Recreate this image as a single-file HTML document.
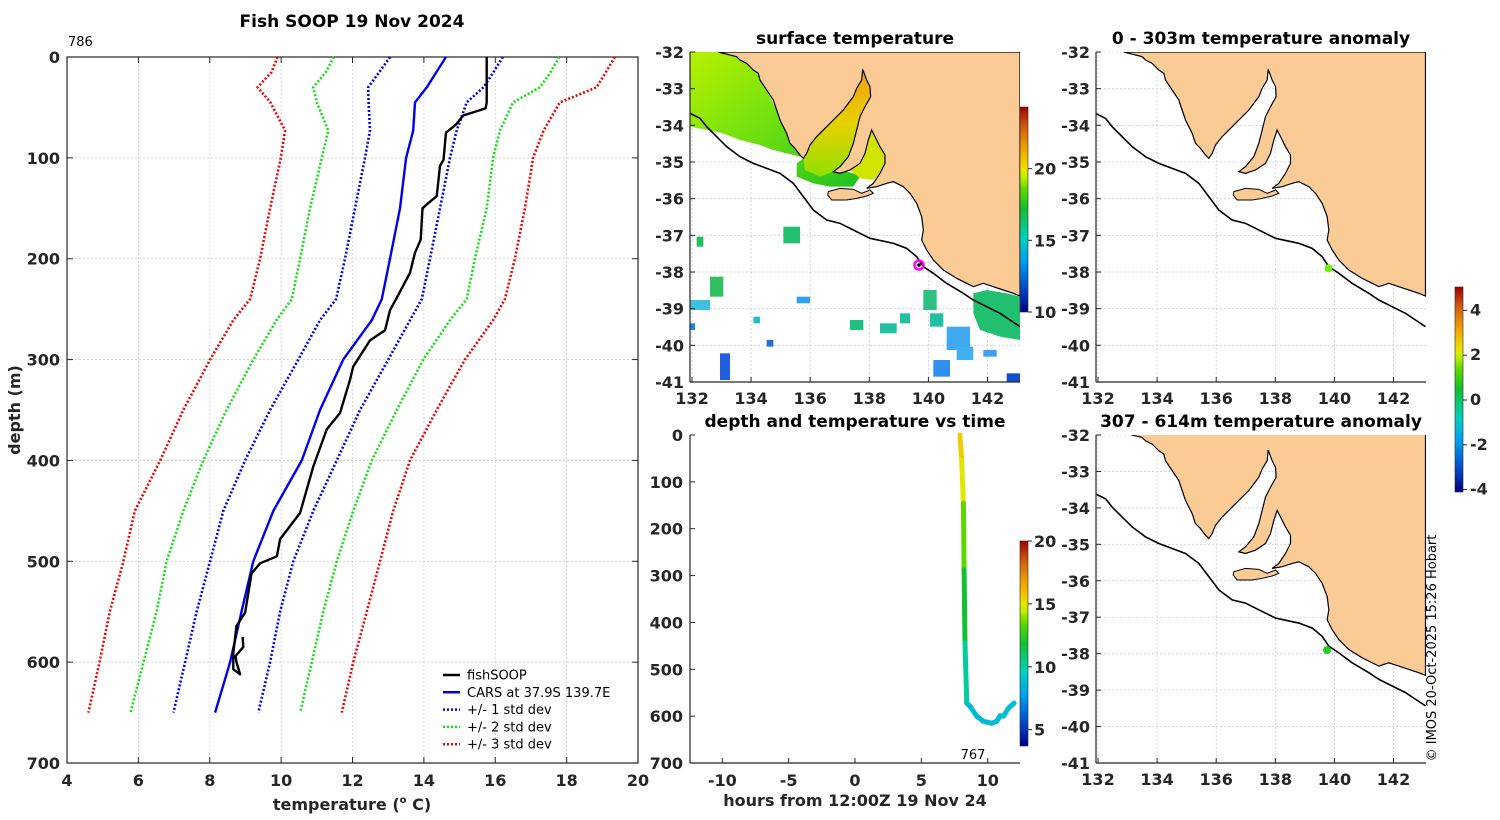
<!DOCTYPE html>
<html><head><meta charset="utf-8"><style>
html,body{margin:0;padding:0;background:#fff;}
svg{display:block;font-family:"DejaVu Sans","Liberation Sans",sans-serif;}
.t{font-weight:bold;fill:#262626;font-size:16px;}
.ttl{font-weight:bold;fill:#000;font-size:17px;}
.lg{font-size:13px;fill:#000;}
</style></head><body>
<svg id="fig" width="1500" height="820" viewBox="0 0 1500 820">
<defs>
<linearGradient id="cmapV" x1="0" y1="1" x2="0" y2="0">
<stop offset="0" stop-color="#000080"/><stop offset="0.1" stop-color="#0040c0"/><stop offset="0.25" stop-color="#00a0f0"/><stop offset="0.36" stop-color="#00d0c0"/><stop offset="0.5" stop-color="#10c030"/><stop offset="0.6" stop-color="#60d800"/><stop offset="0.66" stop-color="#c0f000"/><stop offset="0.7" stop-color="#f0e000"/><stop offset="0.8" stop-color="#f0a000"/><stop offset="0.9" stop-color="#d06010"/><stop offset="1" stop-color="#a00000"/>
</linearGradient>
<linearGradient id="nwg" x1="0" y1="0" x2="1" y2="1"><stop offset="0" stop-color="#b8f000"/><stop offset="0.5" stop-color="#70e010"/><stop offset="1" stop-color="#20c020"/></linearGradient>
<linearGradient id="sgg" x1="0" y1="0" x2="0" y2="1"><stop offset="0" stop-color="#f0a010"/><stop offset="0.5" stop-color="#e8d000"/><stop offset="1" stop-color="#90e000"/></linearGradient>
<clipPath id="clipM"><rect x="690" y="52" width="330" height="330"/></clipPath>
<clipPath id="clipR1"><rect x="1096" y="52" width="330" height="330"/></clipPath>
<clipPath id="clipR2"><rect x="1096" y="435" width="330" height="328"/></clipPath>
<g id="landshape">
<path fill="#fbcb96" stroke="#000" stroke-width="1.2" vector-effect="non-scaling-stroke" d="M235,66 L290,80 300,90 320,100 340,120 355,130 360,150 380,180 400,210 410,240 420,270 440,310 450,340 465,355 480,375 490,385 500,370 510,345 530,320 560,290 580,270 610,240 640,200 650,175 665,150 668,118 680,150 690,170 692,200 675,230 660,260 650,300 640,340 625,380 600,410 580,425 600,430 630,420 660,400 675,370 685,330 695,300 705,320 720,350 735,375 735,400 720,430 700,460 680,475 710,470 740,460 760,455 790,470 810,490 830,520 845,560 850,600 845,630 860,660 880,690 910,720 950,745 980,760 1000,770 1030,760 1060,770 1090,780 1120,790 1140,798 1140,66 Z"/>
<path fill="#fbcb96" stroke="#000" stroke-width="1" vector-effect="non-scaling-stroke" d="M565,485 L600,475 640,478 665,490 690,480 700,490 680,498 650,505 620,510 575,510 563,495 Z"/>
<path fill="none" stroke="#000" stroke-width="1.6" vector-effect="non-scaling-stroke" d="M150,250 L180,265 200,290 230,320 260,350 300,380 340,400 380,415 420,430 460,460 490,500 520,540 560,570 600,580 640,600 690,625 760,640 800,655 830,680 850,710 880,730 920,760 970,790 1000,810 1040,830 1080,850 1110,870 1140,890"/>
</g>
</defs>
<g id="layer"></g>
</svg>
<script>
// ---------- Left profile chart data ----------
const stdDepths = [0,15,30,45,73,100,150,200,240,261,300,350,400,450,500,550,600,650];
const carsMean  = [14.62,14.35,14.08,13.75,13.70,13.50,13.33,13.05,12.82,12.54,11.74,11.09,10.58,9.78,9.22,8.89,8.57,8.15];
const minus1    = [13.05,12.75,12.44,12.45,12.49,12.35,12.07,11.79,11.54,11.09,10.48,9.69,8.99,8.38,8.01,7.63,7.31,6.98];
const plus1     = [16.21,15.95,15.67,15.20,14.92,14.73,14.45,14.17,13.94,13.61,13.00,12.21,11.56,10.90,10.34,9.97,9.69,9.36];
const minus2    = [11.48,11.25,10.90,11.00,11.32,11.14,10.81,10.53,10.30,9.87,9.22,8.47,7.82,7.26,6.79,6.51,6.14,5.78];
const plus2     = [17.79,17.55,17.25,16.50,16.13,15.94,15.76,15.43,15.20,14.73,13.98,13.24,12.54,12.02,11.56,11.18,10.86,10.53];
const minus3    = [9.90,9.73,9.34,9.70,10.11,9.99,9.69,9.41,9.13,8.66,8.01,7.26,6.61,5.90,5.58,5.20,4.91,4.60];
const plus3     = [19.35,19.10,18.84,17.81,17.35,17.06,16.83,16.55,16.27,15.94,15.15,14.36,13.61,13.14,12.77,12.40,12.02,11.70];
const fishDepth = [0,45,51,58,67,75,102,108,138,145,150,181,194,214,240,251,271,281,307,320,353,369,406,452,465,478,495,502,512,551,564,591,607,612,600,594,585,575];
const fishTemp  = [15.76,15.76,15.73,15.1,14.9,14.62,14.55,14.45,14.36,14.12,13.96,13.91,13.75,13.61,13.22,13.05,12.91,12.49,12.02,11.93,11.65,11.28,10.90,10.53,10.25,9.97,9.88,9.41,9.17,8.99,8.75,8.66,8.66,8.85,8.75,8.72,8.94,8.92];
const tempTicks = [4,6,8,10,12,14,16,18,20];
const depthTicks = [0,100,200,300,400,500,600,700];
// ---------- time plot data ----------
const trHours = [7.91,8.04,8.17,8.22,8.29,8.42,8.67,9.17,9.67,10.3,10.68,10.93,11.18,11.56,11.99];
const trDepth = [0,53,146,288,444,572,579,600,611,615,611,599,600,583,572];
const trTemp  = [15.7,15.5,14.3,12.5,11.3,9.0,8.9,8.7,8.7,8.8,8.8,8.8,8.9,8.9,8.9];
const hourTicks = [-10,-5,0,5,10];
// ---------- maps ----------
const lonTicks = [132,134,136,138,140,142];
const latTicks = [-32,-33,-34,-35,-36,-37,-38,-39,-40,-41];
const sstTicks = [10,15,20];
const anomTicks = [-4,-2,0,2,4];
const cbTicks2 = [5,10,15,20];

const NS='http://www.w3.org/2000/svg';
const layer=document.getElementById('layer');
function mk(tag,attrs,parent){const e=document.createElementNS(NS,tag);for(const k in attrs)e.setAttribute(k,attrs[k]);(parent||layer).appendChild(e);return e;}
function txt(x,y,s,cls,anchor,parent){const t=mk('text',{x:x,y:y,class:cls,'text-anchor':anchor||'middle'},parent);t.textContent=s;return t;}
const cstops=[[0,[0,0,128]],[0.1,[0,64,192]],[0.25,[0,160,240]],[0.36,[0,208,192]],[0.5,[16,192,48]],[0.6,[96,216,0]],[0.66,[192,240,0]],[0.7,[240,224,0]],[0.8,[240,160,0]],[0.9,[208,96,16]],[1,[160,0,0]]];
function cmap(f){f=Math.max(0,Math.min(1,f));for(let i=1;i<cstops.length;i++){if(f<=cstops[i][0]){const a=cstops[i-1],b=cstops[i];const u=(f-a[0])/(b[0]-a[0]);const c=a[1].map((v,j)=>Math.round(v+(b[1][j]-v)*u));return 'rgb('+c.join(',')+')';}}return 'rgb(160,0,0)';}

// ===== LEFT CHART =====
const LX=T=>67+(T-4)*35.69, LY=d=>57+d*1.0086;
const gL=mk('g',{});


tempTicks.forEach(t=>{const l=mk('line',{x1:LX(t),x2:LX(t),y1:57,y2:763,stroke:'#c8cce0','stroke-width':0.8,'stroke-dasharray':'2 2'},gL);

mk('line',{x1:LX(t),x2:LX(t),y1:763,y2:757,stroke:'#262626'},gL);mk('line',{x1:LX(t),x2:LX(t),y1:57,y2:63,stroke:'#262626'},gL);
const tl=txt(LX(t),786,String(t),'t','middle',gL);});
depthTicks.forEach(d=>{const l=mk('line',{x1:67,x2:638,y1:LY(d),y2:LY(d),stroke:'#dcc8c0','stroke-width':0.8,'stroke-dasharray':'2 2'},gL);

mk('line',{x1:67,x2:73,y1:LY(d),y2:LY(d),stroke:'#262626'},gL);mk('line',{x1:632,x2:638,y1:LY(d),y2:LY(d),stroke:'#262626'},gL);
const tl=txt(60,LY(d)+6,String(d),'t','end',gL);});
const fr=mk('rect',{x:67,y:57,width:571,height:706,fill:'none',stroke:'#262626','stroke-width':1.2},gL);

function pline(ts,ds,color,dash,w,name){const p=ts.map((t,i)=>LX(t).toFixed(1)+','+LY(ds[i]).toFixed(1)).join(' ');
const e=mk('polyline',{points:p,fill:'none',stroke:color,'stroke-width':w,'stroke-linejoin':'round'},gL);if(dash)e.setAttribute('stroke-dasharray',dash);
}
pline(minus3,stdDepths,'#f00000','2 2',2.6,'minus-3-std-line');
pline(plus3,stdDepths,'#f00000','2 2',2.6,'plus-3-std-line');
pline(minus2,stdDepths,'#10e010','2 2',2.6,'minus-2-std-line');
pline(plus2,stdDepths,'#10e010','2 2',2.6,'plus-2-std-line');
pline(minus1,stdDepths,'#0000f0','2 2',2.6,'minus-1-std-line');
pline(plus1,stdDepths,'#0000f0','2 2',2.6,'plus-1-std-line');
pline(carsMean,stdDepths,'#0000f0',null,2.4,'cars-mean-line');
pline(fishTemp,fishDepth,'#000',null,2.4,'fishsoop-line');
let e;
e=txt(352,27,'Fish SOOP 19 Nov 2024','ttl','middle',gL);
e=txt(68,46,'786','lg','start',gL);e.setAttribute('font-size','10');
e=txt(20,410,'depth (m)','t','middle',gL);e.setAttribute('transform','rotate(-90 20 410)');e.setAttribute('font-size','17');
e=mk('text',{x:352,y:810,class:'t','text-anchor':'middle','font-size':'17'},gL);e.innerHTML='temperature (<tspan font-size="10" dy="-7">o</tspan><tspan dy="7"> C)</tspan>';

const legItems=[['fishSOOP','#000',null],['CARS at 37.9S 139.7E','#0000f0',null],['+/- 1 std dev','#0000f0','2 2'],['+/- 2 std dev','#10e010','2 2'],['+/- 3 std dev','#f00000','2 2']];
legItems.forEach((it,i)=>{const y=675+i*17.3;const g=mk('g',{},gL);
const l=mk('line',{x1:443,x2:460,y1:y,y2:y,stroke:it[1],'stroke-width':2.5},g);if(it[2])l.setAttribute('stroke-dasharray',it[2]);
txt(467,y+4.5,it[0],'lg','start',g);});

// ===== MAP helper =====
function drawMap(left,top,h,clip,name,title){
  const g=mk('g',{});
  const lonX=lon=>left+2+(lon-132)*29.55, latY=lat=>top+(-32-lat)*(h/9);
  const gg=mk('g',{'clip-path':'url(#'+clip+')'},g);
  lonTicks.forEach(l=>{mk('line',{x1:lonX(l),x2:lonX(l),y1:top,y2:top+h,stroke:'#c8cce8','stroke-width':0.8,'stroke-dasharray':'2 2'},gg);});
  latTicks.forEach(l=>{mk('line',{x1:left,x2:left+330,y1:latY(l),y2:latY(l),stroke:'#c8cce8','stroke-width':0.8,'stroke-dasharray':'2 2'},gg);});
  mk('line',{x1:left,x2:left,y1:top,y2:top+h,stroke:'#262626','stroke-width':1.2},g);
  mk('line',{x1:left,x2:left+330,y1:top+h,y2:top+h,stroke:'#262626','stroke-width':1.2},g);
  lonTicks.forEach(l=>{mk('line',{x1:lonX(l),x2:lonX(l),y1:top+h,y2:top+h-5,stroke:'#262626'},g);
    const t=txt(lonX(l),top+h+22,String(l),'t','middle',g);});
  latTicks.forEach(l=>{mk('line',{x1:left,x2:left+5,y1:latY(l),y2:latY(l),stroke:'#262626'},g);
    const t=txt(left-6,latY(l)+6,String(l),'t','end',g);});
  const tt=txt(left+165,top-8,title,'ttl','middle',g);
  return {g,gg,lonX,latY};
}
// middle SST map
const M=drawMap(690,52,330,'clipM','sst-map','surface temperature');
const sstG=mk('g',{transform:'translate(640,30) scale(0.33333)'},M.gg);
mk('path',{d:'M150,66 L235,66 290,80 320,100 355,130 380,180 410,240 440,310 465,355 490,385 470,400 470,440 520,460 570,470 640,470 660,440 640,430 600,420 560,400 520,395 480,380 440,370 400,360 360,345 300,330 250,310 200,300 150,290 Z',fill:'url(#nwg)'},sstG);
mk('path',{d:'M490,385 500,370 510,345 530,320 560,290 580,270 610,240 640,200 650,175 665,150 668,118 680,150 690,170 692,200 675,230 660,260 650,300 640,340 625,380 600,410 580,425 540,440 495,420 Z',fill:'url(#sgg)'},sstG);
mk('path',{d:'M630,420 660,400 675,370 685,330 695,300 705,320 720,350 735,375 735,400 720,430 700,450 660,445 Z',fill:'#d0e400'},sstG);
mk('path',{d:'M1000,790 1040,780 1100,790 1140,800 1140,930 1080,920 1020,900 1000,850 Z',fill:'#20c070'},sstG);
const sstBlobs=[[170,620,20,30,'#20c060'],[210,740,40,60,'#30c060'],[150,810,60,30,'#40c0e0'],[430,590,50,50,'#20c070'],[470,800,40,20,'#30a0f0'],[630,870,40,30,'#20c080'],[720,880,50,30,'#20c0a0'],[850,780,40,60,'#30c080'],[870,850,40,40,'#20c0a0'],[920,890,70,70,'#40a8f0'],[950,950,50,40,'#40b0f0'],[880,990,50,50,'#3090f0'],[240,970,30,80,'#2060e0'],[1100,1030,40,25,'#1050d0'],[340,860,20,20,'#20c0c0'],[780,850,30,30,'#20c0a0'],[1030,960,40,20,'#40a0f0'],[150,880,15,20,'#2080f0'],[380,930,20,20,'#2070e0']];
sstBlobs.forEach(b=>{const r=mk('rect',{x:b[0],y:b[1],width:b[2],height:b[3],fill:b[4]},sstG);});
mk('use',{href:'#landshape',transform:'translate(640,30) scale(0.33333)'},M.gg);
e=mk('circle',{cx:919,cy:265,r:4.5,fill:'none',stroke:'#ff00ff','stroke-width':2.5},M.g);
mk('circle',{cx:919,cy:265,r:1.8,fill:'#000'},M.g);
// sst colorbar
e=mk('rect',{x:1020,y:107,width:8,height:205,fill:'url(#cmapV)',stroke:'#262626','stroke-width':0.6});
sstTicks.forEach(v=>{const y=312-(v-10)/(24.3-10)*205;mk('line',{x1:1028,x2:1032,y1:y,y2:y,stroke:'#262626'});const t=txt(1034,y+6,String(v),'t','start');});

// right maps
const R1=drawMap(1096,52,330,'clipR1','anomaly-map-0-303m','0 - 303m temperature anomaly');
mk('use',{href:'#landshape',transform:'translate(1045.5,30) scale(0.33333)'},R1.gg);
e=mk('circle',{cx:R1.lonX(139.8),cy:R1.latY(-37.9),r:4,fill:'#70f010'},R1.g);
const R2=drawMap(1096,435,328,'clipR2','anomaly-map-307-614m','307 - 614m temperature anomaly');
mk('use',{href:'#landshape',transform:'translate(1045.5,411) scale(0.33333 0.3313)'},R2.gg);
e=mk('circle',{cx:R2.lonX(139.75),cy:R2.latY(-37.9),r:4,fill:'#20d020'},R2.g);
e=mk('rect',{x:1455,y:287,width:8,height:205,fill:'url(#cmapV)',stroke:'#262626','stroke-width':0.6});
anomTicks.forEach(v=>{const y=400-v*22.4;mk('line',{x1:1463,x2:1467,y1:y,y2:y,stroke:'#262626'});const t=txt(1470,y+5,String(v),'t','start');t.setAttribute('font-size','12');});
e=txt(1436,648,'© IMOS 20-Oct-2025 15:26 Hobart','lg','middle');e.setAttribute('font-size','12.5');e.setAttribute('fill','#262626');e.setAttribute('transform','rotate(-90 1436 648)');

// ===== time plot =====
const TX=h=>855+h*13.27, TY=d=>435+d*0.4686;
const gT=mk('g',{});
mk('line',{x1:690,x2:690,y1:435,y2:763,stroke:'#262626','stroke-width':1.2},gT);
mk('line',{x1:690,x2:1020,y1:763,y2:763,stroke:'#262626','stroke-width':1.2},gT);
hourTicks.forEach(h=>{mk('line',{x1:TX(h),x2:TX(h),y1:763,y2:758,stroke:'#262626'},gT);const t=txt(TX(h),786,String(h),'t','middle',gT);});
depthTicks.forEach(d=>{mk('line',{x1:690,x2:695,y1:TY(d),y2:TY(d),stroke:'#262626'},gT);const t=txt(683,TY(d)+6,String(d),'t','end',gT);});
e=txt(855,427,'depth and temperature vs time','ttl','middle',gT);
e=txt(855,806,'hours from 12:00Z 19 Nov 24','t','middle',gT);e.setAttribute('font-size','17');
e=txt(973,759,'767','lg','middle',gT);e.setAttribute('font-size','12');
for(let i=1;i<trHours.length;i++){const s=mk('line',{x1:TX(trHours[i-1]),y1:TY(trDepth[i-1]),x2:TX(trHours[i]),y2:TY(trDepth[i]),stroke:cmap(((trTemp[i-1]+trTemp[i])/2-3.7)/16.3),'stroke-width':5,'stroke-linecap':'round'},gT);
}
e=mk('rect',{x:1020,y:541,width:8,height:205,fill:'url(#cmapV)',stroke:'#262626','stroke-width':0.6});
cbTicks2.forEach(v=>{const y=746-(v-3.7)/16.3*205;mk('line',{x1:1028,x2:1032,y1:y,y2:y,stroke:'#262626'});const t=txt(1034,y+6,String(v),'t','start');});
</script>
</body></html>
